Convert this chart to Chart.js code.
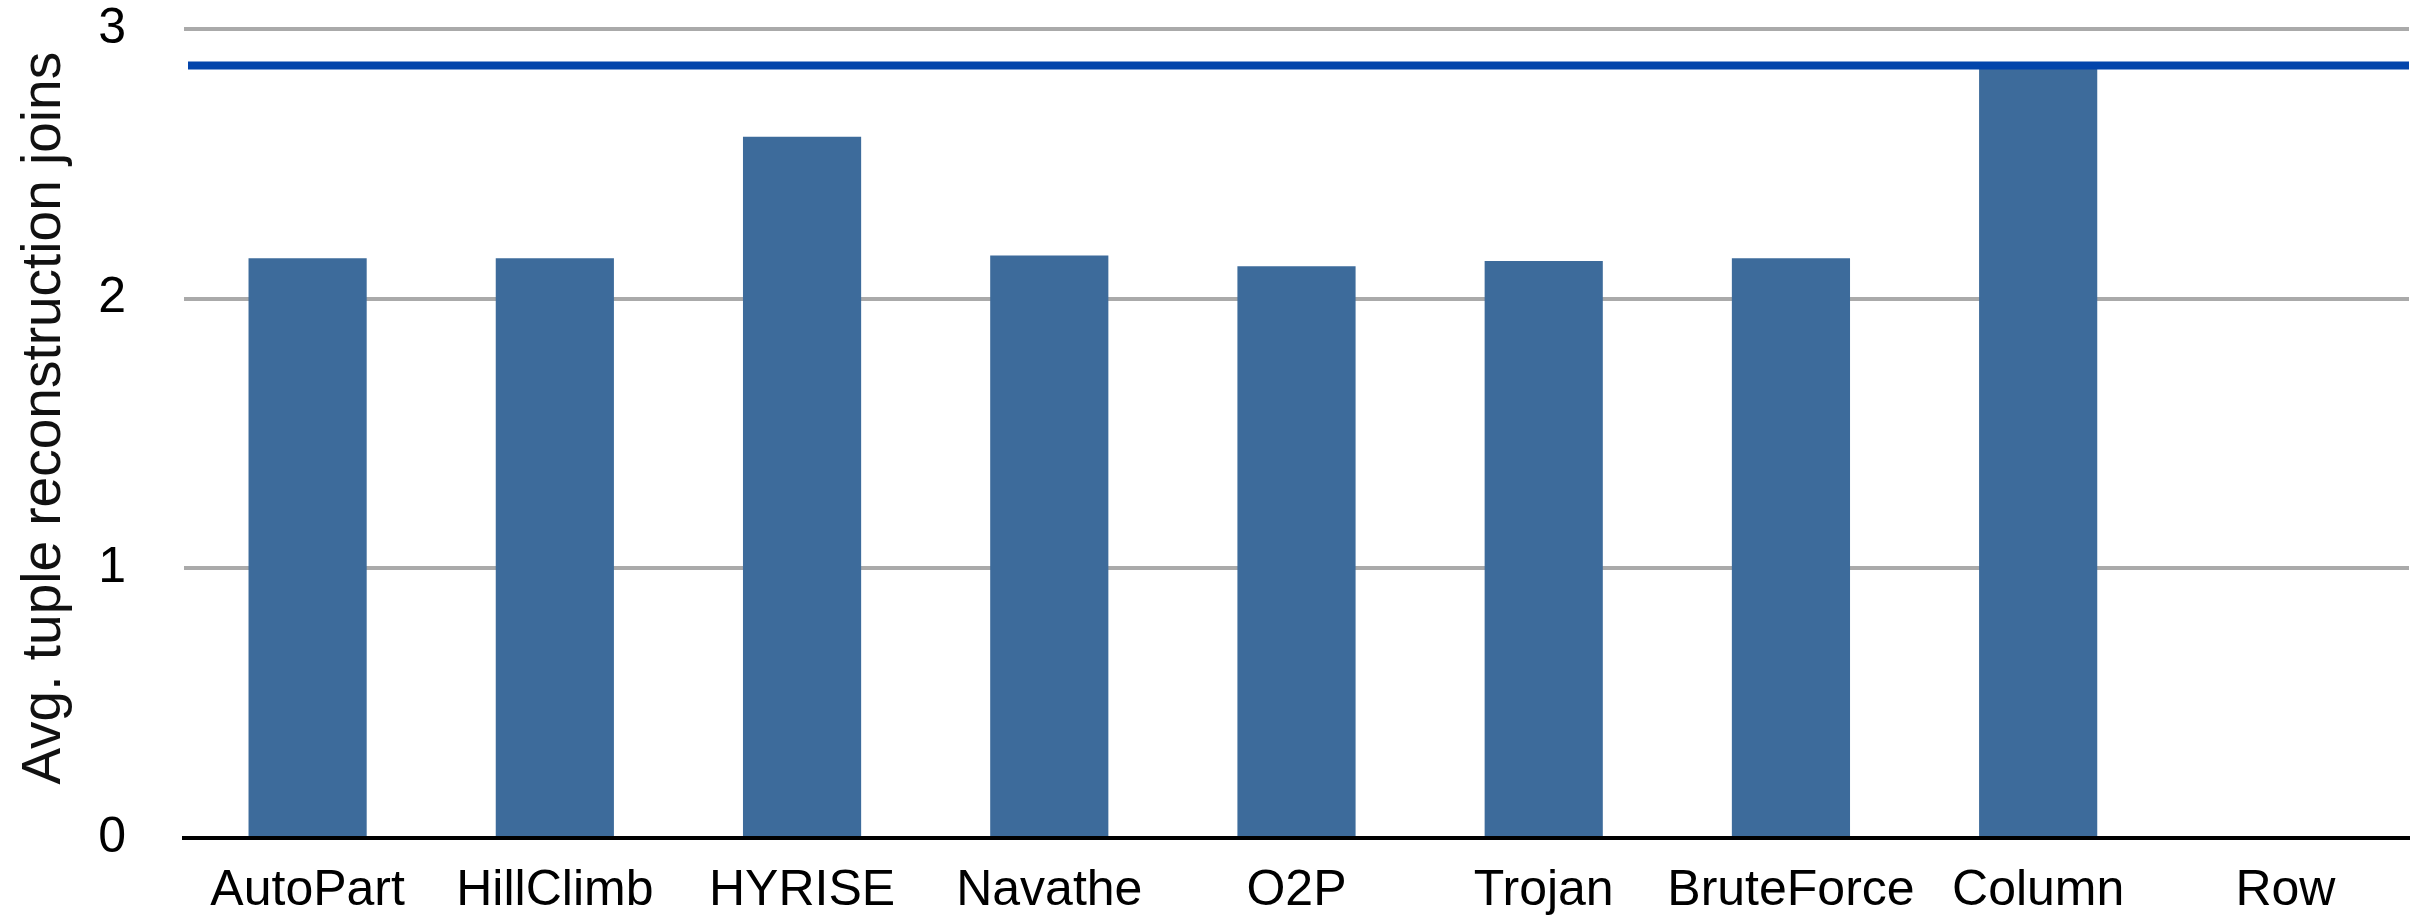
<!DOCTYPE html>
<html>
<head>
<meta charset="utf-8">
<script src="https://cdn.jsdelivr.net/npm/chart.js@4/dist/chart.umd.min.js"></script>
<style>
  html, body { margin: 0; padding: 0; background: #fff; }
  #wrap { width: 2414px; height: 916px; }
</style>
</head>
<body>
<div id="wrap"><canvas id="joinschart" width="2414" height="916"></canvas></div>
<script>
// chart values
const categories = ["AutoPart", "HillClimb", "HYRISE", "Navathe", "O2P", "Trojan", "BruteForce", "Column", "Row"];
const avgJoins = [2.15, 2.15, 2.60, 2.16, 2.12, 2.14, 2.15, 2.87, 0];
const referenceLevels = [2.865];   // horizontal line across the plot (Column level)
const yTickValues = [0, 1, 2, 3];
const yTitle = "Avg. tuple reconstruction joins";

const barColor = "#3d6b9b";
const lineColor = "#0345ab";
const gridColor = "#aaaaaa";
const fontName = "'Liberation Sans', Arial, Helvetica, sans-serif";

// draws the reference level(s) through the y scale, full plot width
var referenceLinePlugin = {
    id: "referenceLine",
    afterDatasetsDraw: function (chart) {
        var c = chart.ctx;
        var area = chart.chartArea;
        var yScale = chart.scales.y;
        c.save();
        c.strokeStyle = lineColor;
        c.lineWidth = 8;
        referenceLevels.forEach(function (v) {
            var py = yScale.getPixelForValue(v);
            c.beginPath();
            c.moveTo(area.left + 4, py);
            c.lineTo(area.right, py);
            c.stroke();
        });
        c.restore();
    }
};

var ctx = document.getElementById("joinschart").getContext("2d");

var chart = new Chart(ctx, {
    type: "bar",
    data: {
        labels: categories,
        datasets: [{
            label: yTitle,
            data: avgJoins,
            backgroundColor: barColor,
            borderWidth: 0,
            barPercentage: 0.478,
            categoryPercentage: 1
        }]
    },
    plugins: [referenceLinePlugin],
    options: {
        responsive: false,
        animation: false,
        events: [],
        layout: { padding: { top: 29, right: 5, bottom: 0, left: 0 } },
        plugins: {
            legend: { display: false },
            tooltip: { enabled: false }
        },
        scales: {
            x: {
                grid: { display: false, drawTicks: false },
                border: { display: true, color: "#000", width: 4 },
                ticks: {
                    color: "#000",
                    padding: 28,
                    maxRotation: 0,
                    autoSkip: false,
                    font: { family: fontName, size: 50, lineHeight: 1 }
                },
                afterFit: function (scale) {
                    scale.height = 78;
                    scale.paddingLeft = 0;
                    scale.paddingRight = 0;
                }
            },
            y: {
                min: yTickValues[0],
                max: yTickValues[yTickValues.length - 1],
                afterBuildTicks: function (scale) {
                    scale.ticks = yTickValues.map(function (v) { return { value: v }; });
                },
                grid: { color: gridColor, lineWidth: 4, drawTicks: false },
                border: { display: false },
                ticks: {
                    color: "#000",
                    padding: 58,
                    font: { family: fontName, size: 50, lineHeight: 1 }
                },
                title: {
                    display: true,
                    // two leading spaces nudge the centred title up a little
                    text: "\u00a0\u00a0" + yTitle,
                    color: "#111",
                    padding: { top: 12, bottom: 0 },
                    font: { family: fontName, size: 55, lineHeight: 1.2 }
                },
                afterFit: function (scale) {
                    scale.width = 184;
                    scale.paddingTop = 0;
                    scale.paddingBottom = 0;
                }
            }
        }
    }
});
</script>
</body>
</html>
